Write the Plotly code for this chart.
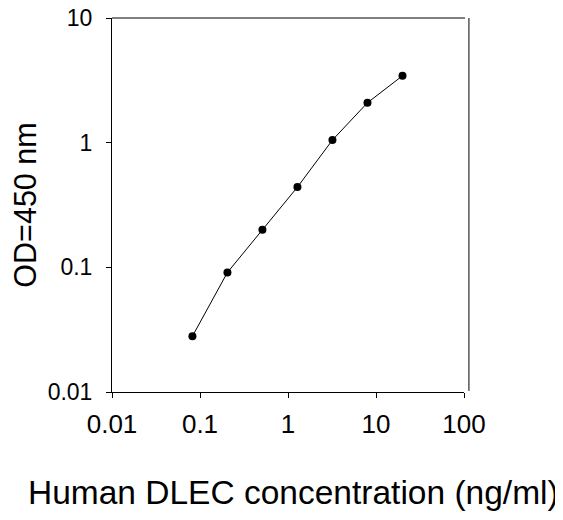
import plotly.graph_objects as go

# standard curve, 2.5-fold dilutions
conc = [0.082, 0.205, 0.512, 1.28, 3.2, 8, 20]
od = [0.028, 0.091, 0.20, 0.44, 1.05, 2.09, 3.44]

x_ticks = [0.01, 0.1, 1, 10, 100]
x_labels = ['0.01', '0.1', '1', '10', '100']
y_ticks = [0.01, 0.1, 1, 10]
y_labels = ['0.01', '0.1', '1', '10']

font = 'Liberation Sans, Arial, sans-serif'

fig = go.Figure(go.Scatter(
    x=conc, y=od,
    mode='lines+markers',
    line=dict(color='black', width=1),
    marker=dict(color='black', size=8),
    showlegend=False
))

# page body adds ~7px offset, so margins are trimmed on top/left
fig.update_layout(
    width=563, height=520,
    margin=dict(l=104, r=107, t=10, b=136),
    paper_bgcolor='white', plot_bgcolor='white',
    font=dict(family=font, color='black'),
)

fig.update_xaxes(
    type='log', range=[-2, 2], automargin=False,
    tickvals=x_ticks, ticktext=x_labels,
    tickfont=dict(size=26), ticklabelstandoff=4, ticklabeloverflow='allow',
    ticks='outside', ticklen=5, tickwidth=1, tickcolor='black',
    showline=True, linecolor='black', linewidth=1,
    showgrid=False, zeroline=False,
)

fig.update_yaxes(
    type='log', range=[-2, 1], automargin=False,
    tickvals=y_ticks, ticktext=y_labels,
    tickfont=dict(size=23), ticklabelstandoff=9, ticklabeloverflow='allow',
    ticks='outside', ticklen=5, tickwidth=1, tickcolor='black',
    showline=True, linecolor='black', linewidth=1,
    showgrid=False, zeroline=False,
    title=dict(text='OD=450 nm', font=dict(size=30.5), standoff=34),
)

# x title sits a little right of the axis centre
fig.add_annotation(text='Human DLEC concentration (ng/ml)',
                   xref='paper', yref='paper', x=0.517, y=-0.27,
                   xanchor='center', yanchor='middle', showarrow=False,
                   font=dict(size=33.5))

# top frame and right frame line (a few pixels past the end of the x axis)
fig.add_shape(type='line', xref='paper', yref='paper',
              x0=0, x1=1.003, y0=1, y1=1,
              line=dict(color='black', width=1))
fig.add_shape(type='line', xref='paper', yref='paper',
              x0=1.014, x1=1.014, y0=0.003, y1=1,
              line=dict(color='black', width=1))

fig.write_html('out.html')
